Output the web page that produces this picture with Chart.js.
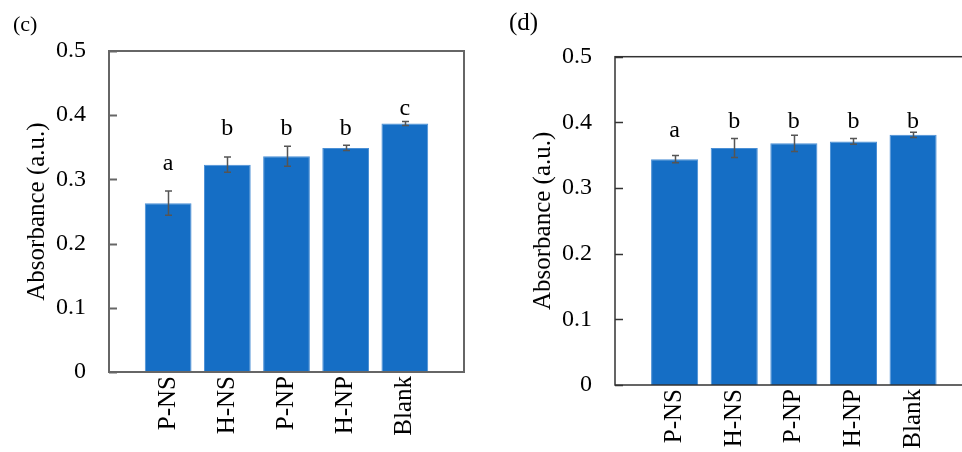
<!DOCTYPE html>
<html>
<head>
<meta charset="utf-8">
<script src="https://cdn.jsdelivr.net/npm/chart.js@4.4.1/dist/chart.umd.min.js"></script>
<style>
  html, body { margin: 0; padding: 0; background: #fff; }
  #wrap { position: relative; width: 962px; height: 452px; overflow: hidden; }
  .panel { position: absolute; top: 0; height: 452px; overflow: hidden; }
  canvas { display: block; }
</style>
</head>
<body>
<div id="wrap">
  <div class="panel" style="left:0;width:481px"><canvas id="chartC" width="481" height="452"></canvas></div>
  <div class="panel" style="left:481px;width:481px"><canvas id="chartD" width="520" height="452"></canvas></div>
</div>
<script>
// categories shared by both panels
const categories = ["P-NS", "H-NS", "P-NP", "H-NP", "Blank"];
const yTickLabels = ["0", "0.1", "0.2", "0.3", "0.4", "0.5"];

// panel (c)
const valuesC = [0.263, 0.323, 0.336, 0.349, 0.387];
const errorsC = [0.019, 0.012, 0.0155, 0.004, 0.003];
const lettersC = ["a", "b", "b", "b", "c"];
const letterLevelC = [0.315, 0.369, 0.369, 0.369, 0.400];

// panel (d)
const valuesD = [0.344, 0.361, 0.368, 0.371, 0.381];
const errorsD = [0.0055, 0.0145, 0.0125, 0.0045, 0.004];
const lettersD = ["a", "b", "b", "b", "b"];
const letterLevelD = [0.378, 0.391, 0.391, 0.391, 0.391];

Chart.defaults.color = "#000";
Chart.defaults.font.family = '"Liberation Serif", "Times New Roman", serif';

// frame, inward ticks, error bars, letters and panel tag
const decoPlugin = {
  id: "deco",
  afterDatasetsDraw(chart, args, opts) {
    const ctx = chart.ctx;
    const area = chart.chartArea;
    const xs = chart.scales.x;
    const ys = chart.scales.y;
    ctx.save();

    ctx.strokeStyle = opts.frameColor;
    ctx.lineWidth = opts.frameWidth;
    ctx.strokeRect(area.left, area.top, area.right - area.left, area.bottom - area.top);
    ys.ticks.forEach((t) => {
      const py = Math.round(ys.getPixelForValue(t.value)) + 0.5;
      ctx.beginPath();
      ctx.moveTo(area.left, py);
      ctx.lineTo(area.left + 8, py);
      ctx.stroke();
    });

    ctx.strokeStyle = "#555";
    ctx.lineWidth = 1.5;
    const vals = chart.data.datasets[0].data;
    vals.forEach((p, i) => {
      const px = Math.round(xs.getPixelForValue(p.x)) + 0.5;
      const hi = ys.getPixelForValue(p.y + opts.errors[i]);
      const lo = ys.getPixelForValue(p.y - opts.errors[i]);
      ctx.beginPath();
      ctx.moveTo(px, hi); ctx.lineTo(px, lo);
      ctx.moveTo(px - 3.5, hi); ctx.lineTo(px + 3.5, hi);
      ctx.moveTo(px - 3.5, lo); ctx.lineTo(px + 3.5, lo);
      ctx.stroke();
    });

    ctx.fillStyle = "#000";
    ctx.font = '24px "Liberation Serif"';
    ctx.textAlign = "center";
    ctx.textBaseline = "alphabetic";
    opts.letters.forEach((s, i) => {
      ctx.fillText(s, xs.getPixelForValue(i), ys.getPixelForValue(opts.letterAt[i]));
    });

    ctx.textAlign = "left";
    ctx.font = opts.tagFont;
    ctx.fillText(opts.tag, opts.tagX, opts.tagY);
    ctx.restore();
  }
};

function makePanel(id, values, errors, letters, letterAt, cfg) {
  const ctx = document.getElementById(id).getContext("2d");
  return new Chart(ctx, {
    type: "bar",
    data: {
      datasets: [
        {
          data: values.map((v, i) => ({ x: i, y: v })),
          backgroundColor: "#156ec5",
          borderColor: "#4a8fd5",
          borderWidth: 1,
          barPercentage: 0.79,
          categoryPercentage: 1,
        },
      ],
    },
    options: {
      responsive: false,
      animation: false,
      layout: { padding: cfg.padding },
      plugins: {
        legend: { display: false },
        tooltip: { enabled: false },
        deco: {
          errors: errors,
          letters: letters,
          letterAt: letterAt,
          frameColor: cfg.frameColor,
          frameWidth: cfg.frameWidth,
          tag: cfg.tag,
          tagX: cfg.tagX,
          tagY: cfg.tagY,
          tagFont: cfg.tagFont,
        },
      },
      scales: {
        x: {
          type: "linear",
          min: -1,
          max: 5,
          offset: false,
          grid: { display: false, drawTicks: false },
          border: { display: false },
          afterFit: (s) => {
            s.height = cfg.xHeight;
            s.paddingLeft = 0;
            s.paddingRight = 0;
          },
          ticks: {
            stepSize: 1,
            autoSkip: false,
            minRotation: 90,
            maxRotation: 90,
            padding: 4,
            font: { size: 25 },
            callback: (v) => categories[v] || "",
          },
        },
        y: {
          min: 0,
          max: 0.5,
          grid: { display: false, drawTicks: false },
          border: { display: false },
          afterFit: (s) => {
            s.width = cfg.yWidth;
            s.paddingTop = 0;
            s.paddingBottom = 0;
          },
          title: {
            display: true,
            text: "Absorbance (a.u.)",
            font: { size: 25 },
            padding: { top: cfg.titlePad, bottom: 0 },
          },
          ticks: {
            stepSize: 0.1,
            padding: 23,
            font: { size: 24 },
            callback: (v) => yTickLabels[Math.round(v / 0.1)],
          },
        },
      },
    },
    plugins: [decoPlugin],
  });
}

makePanel("chartC", valuesC, errorsC, lettersC, letterLevelC, {
  padding: { left: 0, top: 51, right: 17, bottom: 0 },
  yWidth: 109,
  xHeight: 80,
  titlePad: 22,
  frameColor: "#666",
  frameWidth: 2,
  tag: "(c)",
  tagX: 13,
  tagY: 31,
  tagFont: '22px "Liberation Serif"',
});

makePanel("chartD", valuesD, errorsD, lettersD, letterLevelD, {
  padding: { left: 0, top: 56.7, right: 28.3, bottom: 0 },
  yWidth: 134,
  xHeight: 67,
  titlePad: 47,
  frameColor: "#333",
  frameWidth: 1.5,
  tag: "(d)",
  tagX: 28,
  tagY: 30,
  tagFont: '25px "Liberation Serif"',
});
</script>
</body>
</html>
